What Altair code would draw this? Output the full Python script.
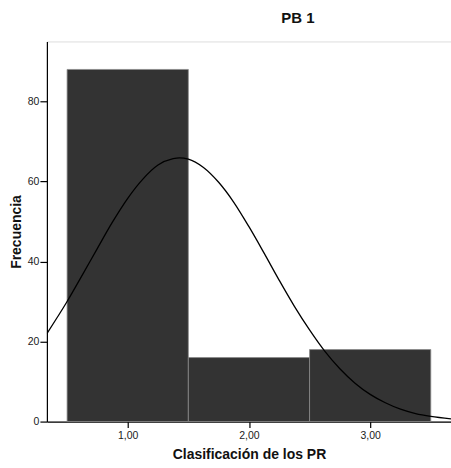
import altair as alt
import pandas as pd

# Histogram bins
bin_start = [0.5, 1.5, 2.5]
bin_end = [1.5, 2.5, 3.5]
freq = [88, 16, 18]

# Normal curve
curve_x = [0.3333, 0.5, 0.625, 0.75, 0.875, 1.0, 1.125, 1.25, 1.375, 1.426, 1.5, 1.625,
           1.75, 1.875, 2.0, 2.125, 2.25, 2.375, 2.5, 2.625, 2.75, 2.875, 3.0,
           3.125, 3.25, 3.375, 3.5, 3.6667]
curve_y = [22.0, 30.0, 36.6, 43.3, 49.9, 55.8, 60.6, 64.1, 65.7, 65.9, 65.6, 63.5,
           59.8, 54.8, 48.7, 42.1, 35.3, 28.8, 22.9, 17.6, 13.2, 9.6, 6.8,
           4.7, 3.1, 2.0, 1.3, 0.7]

x_ticks = [1, 2, 3]
y_ticks = [0, 20, 40, 60, 80]

bars_df = pd.DataFrame({"start": bin_start, "end": bin_end, "freq": freq})
curve_df = pd.DataFrame({"x": curve_x, "y": curve_y})

FONT = "Liberation Sans"
xscale = alt.Scale(domain=[1/3, 11/3], nice=False, zero=False)
yscale = alt.Scale(domain=[0, 95], nice=False)

axis_style = dict(
    grid=False, domainColor="black", tickColor="black", labelColor="#1a1a1a",
    titleColor="#111", labelFont=FONT, titleFont=FONT,
    labelFontSize=10.5, titleFontSize=14, titleFontWeight="bold",
    domainWidth=1.2, tickWidth=1.2,
)

bars = alt.Chart(bars_df).mark_rect(
    color="#333333", stroke="#8a8a8a", strokeWidth=0.8, opacity=1
).encode(
    x=alt.X("start:Q", scale=xscale,
            axis=alt.Axis(values=x_ticks, title="Clasificación de los PR",
                          labelExpr="replace(format(datum.value, '.2f'), '.', ',')",
                          tickSize=6, labelPadding=3, titlePadding=6,
                          **axis_style)),
    x2="end:Q",
    y=alt.Y("freq:Q", scale=yscale,
            axis=alt.Axis(values=y_ticks, title="Frecuencia",
                          tickSize=7, labelPadding=1, titlePadding=4,
                          **axis_style)),
    y2=alt.datum(0),
)

curve = alt.Chart(curve_df).mark_line(
    color="black", strokeWidth=1.3, interpolate="monotone", clip=True
).encode(
    x=alt.X("x:Q", scale=xscale),
    y=alt.Y("y:Q", scale=yscale),
)

chart = alt.layer(bars, curve).properties(
    width=405, height=381,
    title=alt.TitleParams("PB 1", font=FONT, fontSize=15, fontWeight="bold",
                          color="#111", anchor="middle", dx=49, offset=15),
    autosize=alt.AutoSizeParams(type="none"),
    padding={"left": 47, "top": 41, "right": 0, "bottom": 46},
).configure_view(
    stroke="#888888", strokeWidth=1.5
).configure(background="white")

chart.save("out.html", embed_options={"renderer": "svg", "actions": False})
